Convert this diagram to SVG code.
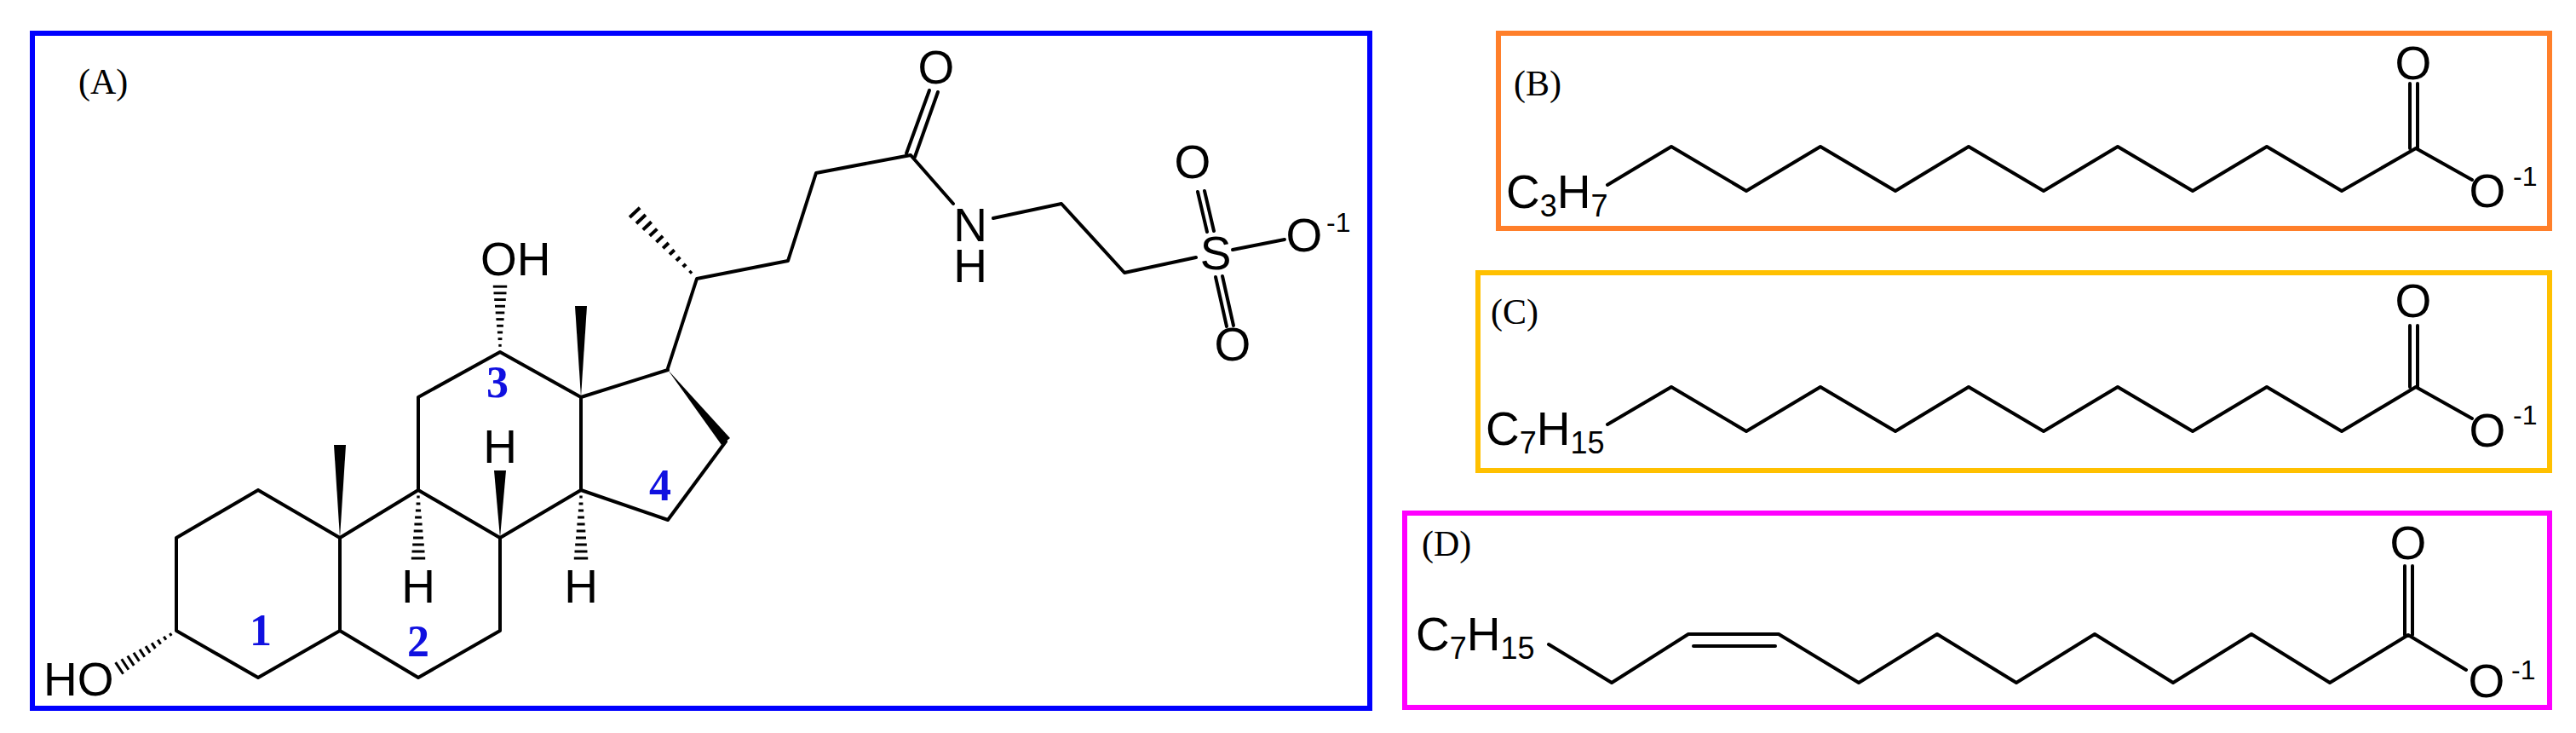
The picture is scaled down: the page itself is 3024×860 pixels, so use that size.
<svg xmlns="http://www.w3.org/2000/svg" xmlns:xlink="http://www.w3.org/1999/xlink" width="3024" height="860" viewBox="0 0 3024 860">
<style>
.b{stroke:#000;stroke-width:4;fill:none;stroke-linecap:round;stroke-linejoin:round}
.w{fill:#000;stroke:none}
.t{font-family:"Liberation Sans",Arial,sans-serif;font-size:55px;fill:#000}
.m{text-anchor:middle}
.s{font-size:36px}
.sup{font-family:"Liberation Sans",Arial,sans-serif;font-size:32px;fill:#000}
.lab{font-family:"Liberation Serif","Times New Roman",serif;font-size:42px;fill:#000}
.num{font-family:"Liberation Serif","Times New Roman",serif;font-size:52px;font-weight:bold;fill:#1010E0;text-anchor:middle}
</style>
<defs>
<g id="hash" stroke="#000" stroke-width="3">
<line x1="8" y1="-1.7" x2="8" y2="1.7"/><line x1="16" y1="-2.4" x2="16" y2="2.4"/><line x1="24" y1="-3.1" x2="24" y2="3.1"/><line x1="32" y1="-3.9" x2="32" y2="3.9"/><line x1="40" y1="-4.6" x2="40" y2="4.6"/><line x1="48" y1="-5.3" x2="48" y2="5.3"/><line x1="56" y1="-6" x2="56" y2="6"/><line x1="64" y1="-6.8" x2="64" y2="6.8"/><line x1="72" y1="-7.5" x2="72" y2="7.5"/><line x1="80" y1="-8.2" x2="80" y2="8.2"/>
</g>
</defs>
<g id="boxes" fill="none" stroke-width="6">
<rect x="38" y="39" width="1570" height="792" stroke="#0000FF"/>
<rect x="1759" y="39" width="1234" height="229" stroke="#FF7F2A"/>
<rect x="1735" y="320" width="1258" height="232" stroke="#FFC000"/>
<rect x="1649" y="602" width="1344" height="228" stroke="#FF00FF"/>
</g>
<g id="panelA">
<text class="lab" x="92" y="110">(A)</text>
<polyline class="b" points="303,575 207,631 207,740 303,795 399,740 399,631 303,575"/>
<polyline class="b" points="399,631 491,575 587,631 587,740 491,795 399,740"/>
<polyline class="b" points="491,575 491,466 587,413 682,466 682,575 587,631"/>
<polyline class="b" points="682,466 784,434"/>
<polyline class="b" points="852,518 784,610 682,575"/>
<polygon class="w" points="399,631 392,522 406,522"/>
<polygon class="w" points="682,466 675,359 689,359"/>
<polygon class="w" points="587,631 580,552 594,552"/>
<polygon class="w" points="784,434 857,514 847,522"/>
<use xlink:href="#hash" transform="translate(207,740) rotate(146.7)"/>
<use xlink:href="#hash" transform="translate(491,575) rotate(90)"/>
<use xlink:href="#hash" transform="translate(682,575) rotate(90)"/>
<use xlink:href="#hash" transform="translate(587,413) rotate(-90) scale(0.96,1)"/>
<use xlink:href="#hash" transform="translate(818,327) rotate(-133.2) scale(1.33,1)"/>
<polyline class="b" points="784,432 818,327 925,306 958,203 1069,182 1119,239"/>
<line class="b" x1="1064" y1="180" x2="1091" y2="106"/>
<line class="b" x1="1074" y1="184" x2="1101" y2="108"/>
<polyline class="b" points="1166,256 1246,239 1320,320 1404,302"/>
<line class="b" x1="1406" y1="225" x2="1417" y2="272"/>
<line class="b" x1="1414" y1="224" x2="1425" y2="271"/>
<line class="b" x1="1427" y1="325" x2="1440" y2="383"/>
<line class="b" x1="1435" y1="324" x2="1448" y2="382"/>
<line class="b" x1="1447" y1="293" x2="1508" y2="281"/>
<text class="t m" x="587" y="543">H</text>
<text class="t m" x="491" y="707">H</text>
<text class="t m" x="682" y="707">H</text>
<text class="t" x="564" y="323">OH</text>
<text class="t" x="51" y="816">HO</text>
<text class="t m" x="1099" y="98">O</text>
<text class="t m" x="1139" y="283">N</text>
<text class="t m" x="1139" y="331">H</text>
<text class="t m" x="1427" y="316">S</text>
<text class="t m" x="1400" y="209">O</text>
<text class="t m" x="1447" y="423">O</text>
<text class="t m" x="1531" y="295">O</text>
<text class="sup" x="1557" y="272">-1</text>
<text class="num" x="306" y="757">1</text>
<text class="num" x="491" y="770">2</text>
<text class="num" x="584" y="466">3</text>
<text class="num" x="775" y="587">4</text>
</g>
<g id="panelB">
<text class="lab" x="1777" y="112">(B)</text>
<text class="t" x="1768" y="244" font-size="50">C<tspan class="s" dy="10">3</tspan><tspan dy="-10">H</tspan><tspan class="s" dy="10">7</tspan></text>
<polyline class="b" points="1887,217 1962,172 2050,224 2137,172 2225,224 2311,172 2399,224 2486,172 2574,224 2661,172 2749,224 2836,174 2902,211"/>
<line class="b" x1="2829" y1="174" x2="2829" y2="98"/>
<line class="b" x1="2838" y1="174" x2="2838" y2="98"/>
<text class="t m" x="2833" y="93" font-size="50">O</text>
<text class="t m" x="2920" y="243" font-size="50">O</text>
<text class="sup" x="2950" y="218">-1</text>
</g>
<g id="panelC">
<text class="lab" x="1750" y="380">(C)</text>
<text class="t" x="1744" y="522" font-size="50">C<tspan class="s" dy="10">7</tspan><tspan dy="-10">H</tspan><tspan class="s" dy="10">15</tspan></text>
<polyline class="b" points="1887,498 1962,454 2050,506 2137,454 2225,506 2311,454 2399,506 2486,454 2574,506 2661,454 2749,506 2836,454 2902,491"/>
<line class="b" x1="2829" y1="454" x2="2829" y2="382"/>
<line class="b" x1="2838" y1="454" x2="2838" y2="382"/>
<text class="t m" x="2833" y="372" font-size="50">O</text>
<text class="t m" x="2920" y="524" font-size="50">O</text>
<text class="sup" x="2950" y="498">-1</text>
</g>
<g id="panelD">
<text class="lab" x="1669" y="652">(D)</text>
<text class="t" x="1662" y="763" font-size="54">C<tspan class="s" dy="10">7</tspan><tspan dy="-10">H</tspan><tspan class="s" dy="10">15</tspan></text>
<polyline class="b" points="1818,756 1892,801 1982,744 2088,744 2182,801 2274,744 2367,801 2459,744 2551,801 2643,744 2735,801 2827,745 2895,786"/>
<line class="b" x1="1988" y1="758" x2="2084" y2="758"/>
<line class="b" x1="2823" y1="745" x2="2823" y2="664"/>
<line class="b" x1="2832" y1="745" x2="2832" y2="664"/>
<text class="t m" x="2827" y="656" font-size="50">O</text>
<text class="t m" x="2919" y="818" font-size="50">O</text>
<text class="sup" x="2948" y="797">-1</text>
</g>
</svg>
